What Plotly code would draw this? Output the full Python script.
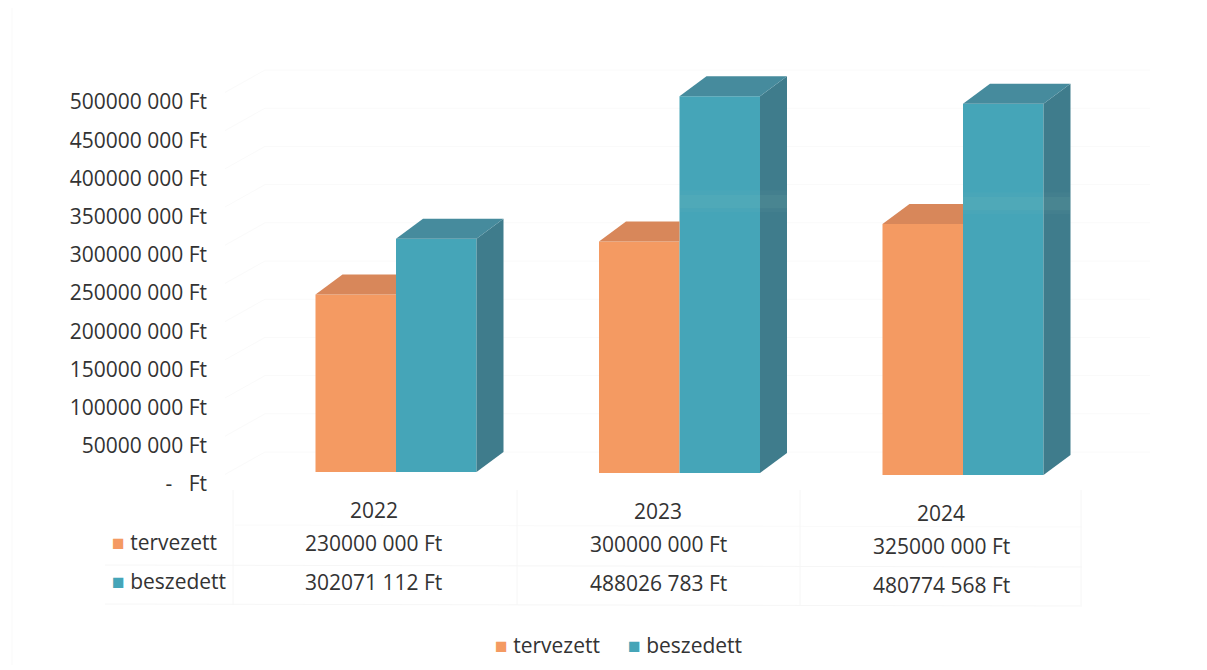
import plotly.graph_objects as go

# ---- data ----
years = ["2022", "2023", "2024"]
tervezett = [230000000, 300000000, 325000000]
beszedett = [302071112, 488026783, 480774568]
tick_values = [0, 50000000, 100000000, 150000000, 200000000, 250000000,
               300000000, 350000000, 400000000, 450000000, 500000000]
series_names = ["tervezett", "beszedett"]

# ---- styling / layout geometry ----
W, H = 1207, 670
FONT = "Open Sans"
TXT = "#333333"
ORANGE, ORANGE_TOP = "#F49A62", "#D8875A"
TEAL, TEAL_SIDE, TEAL_TOP = "#45A5B8", "#3F7C8C", "#468B9D"
GRID = "#FAFAFA"

CAT_PX, CAT_STEP = 396.0, 283.5          # pixel of first group centre, px per category
BAR_PX = 80.5
FRONT_BASE, FRONT_SCALE = 472.0, 0.772e-6   # px of zero, px per Ft on bar plane
AXIS_BASE, AXIS_SCALE = 484.0, 0.764e-6     # px of zero, px per Ft on axis labels
DX, DY_PX = 27 / CAT_STEP, 20.0
DY = DY_PX / FRONT_SCALE
BW = BAR_PX / CAT_STEP
TILT = [0, -1.0 / FRONT_SCALE, -3.0 / FRONT_SCALE]  # slight skew of the scanned page


def fmt(v):
    s = str(v)
    return s[:-3] + " " + s[-3:] + " Ft"


def to_cat(px):
    return (px - CAT_PX) / CAT_STEP


fig = go.Figure()

# back-wall and side-wall gridlines (drawn on the base axis, under the bars)
BACK_Y = 32 / AXIS_SCALE
for v in tick_values:
    fig.add_trace(go.Scatter(
        x=[to_cat(225), to_cat(265), to_cat(1150)],
        y=[v + BACK_Y * 0.3, v + BACK_Y, v + BACK_Y],
        mode="lines", line=dict(color=GRID, width=1), yaxis="y",
        hoverinfo="skip", showlegend=False))

# 3D faces, derived from the values
for i in range(len(years)):
    xo = i - BW
    xt = i
    to, tt, b = tervezett[i] + TILT[i], beszedett[i] + TILT[i], TILT[i]
    # orange top
    fig.add_trace(go.Scatter(
        x=[xo, xo + DX, xt, xt, xo], y=[to, to + DY, to + DY, to, to],
        fill="toself", fillcolor=ORANGE_TOP, mode="lines", line=dict(width=0),
        yaxis="y2", hoverinfo="skip", showlegend=False))
    # teal side
    r = xt + BW
    fig.add_trace(go.Scatter(
        x=[r, r + DX, r + DX, r, r], y=[b, b + DY, tt + DY, tt, b],
        fill="toself", fillcolor=TEAL_SIDE, mode="lines", line=dict(width=0),
        yaxis="y2", hoverinfo="skip", showlegend=False))
    # teal top
    fig.add_trace(go.Scatter(
        x=[xt, xt + DX, r + DX, r, xt], y=[tt, tt + DY, tt + DY, tt, tt],
        fill="toself", fillcolor=TEAL_TOP, mode="lines", line=dict(width=0),
        yaxis="y2", hoverinfo="skip", showlegend=False))

base = TILT
fig.add_trace(go.Bar(name=series_names[0], x=[0, 1, 2], y=tervezett, base=base,
                     marker=dict(color=ORANGE, line=dict(width=0)), yaxis="y2", showlegend=False,
                     offsetgroup="a"))
fig.add_trace(go.Bar(name=series_names[1], x=[0, 1, 2], y=beszedett, base=base,
                     marker=dict(color=TEAL, line=dict(width=0)), yaxis="y2", showlegend=False,
                     offsetgroup="b"))

# pale scanner band over the two taller teal columns
for i in (1, 2):
    for lo, hi, alpha in ((338000000, 366000000, 0.05), (343000000, 360000000, 0.08)):
        yb0, yb1 = lo + TILT[i], hi + TILT[i]
        fig.add_trace(go.Scatter(
            x=[i, i + BW + DX, i + BW + DX, i, i], y=[yb0, yb0, yb1, yb1, yb0],
            fill="toself", fillcolor=f"rgba(150,200,190,{alpha})", mode="lines", line=dict(width=0),
            yaxis="y2", hoverinfo="skip", showlegend=False))


def px_x(p):
    return p / W


def px_y(p):
    return 1 - p / H


ann = []


def text(px, py, s, size=21, anchor="center", color=TXT):
    ann.append(dict(x=px_x(px), y=px_y(py), xref="paper", yref="paper", text=s, showarrow=False,
                    xanchor=anchor, yanchor="middle", font=dict(family=FONT, size=size, color=color)))


# data table
col_px = [374, 658, 941]
hdr_py = [510, 511, 513]
row1_py = [543, 544, 546]
row2_py = [582, 583, 585]
for i in range(3):
    text(col_px[i], hdr_py[i], years[i])
    text(col_px[i], row1_py[i], fmt(tervezett[i]))
    text(col_px[i], row2_py[i], fmt(beszedett[i]))


def key(name, color):
    return f'<span style="color:{color}">■</span> {name}'


text(110, 542, key(series_names[0], ORANGE), anchor="left")
text(110, 581, key(series_names[1], TEAL), anchor="left")
# legend
text(493, 645, key(series_names[0], ORANGE), anchor="left")
text(626, 645, key(series_names[1], TEAL), anchor="left")

shapes = []


def line(x0, y0, x1, y1, c="#F6F6F6"):
    shapes.append(dict(type="line", xref="paper", yref="paper", x0=px_x(x0), y0=px_y(y0),
                       x1=px_x(x1), y1=px_y(y1), line=dict(color=c, width=1), layer="below"))


line(105, 565, 1082, 567)
line(105, 604, 1082, 606)
line(235, 525, 1082, 527, "#FAFAFA")
for xp in (233, 517, 800, 1081):
    line(xp, 490, xp, 605)
line(12, 8, 12, 665, "#F9F9F9")

tick_text = ["-\u00a0\u00a0\u00a0Ft"] + [fmt(v) for v in tick_values[1:]]

fig.update_layout(
    width=W, height=H, margin=dict(l=0, r=0, t=0, b=0, pad=0),
    paper_bgcolor="white", plot_bgcolor="rgba(0,0,0,0)",
    barmode="group", bargap=1 - 2 * BW, bargroupgap=0, showlegend=False,
    font=dict(family=FONT, size=21, color=TXT),
    xaxis=dict(range=[to_cat(0), to_cat(W)], visible=False, fixedrange=True),
    yaxis=dict(range=[(AXIS_BASE - H) / AXIS_SCALE, AXIS_BASE / AXIS_SCALE],
               anchor="free", position=207 / W, side="left",
               tickmode="array", tickvals=tick_values, ticktext=tick_text,
               showgrid=False, zeroline=False, showline=False, ticks="",
               tickfont=dict(family=FONT, size=21, color=TXT), fixedrange=True),
    yaxis2=dict(range=[(FRONT_BASE - H) / FRONT_SCALE, FRONT_BASE / FRONT_SCALE],
                overlaying="y", visible=False, fixedrange=True),
    annotations=ann, shapes=shapes,
)

fig.write_html("out.html", config={"displayModeBar": False},
               post_script="document.body.style.margin='0';document.documentElement.style.overflow='hidden';")
